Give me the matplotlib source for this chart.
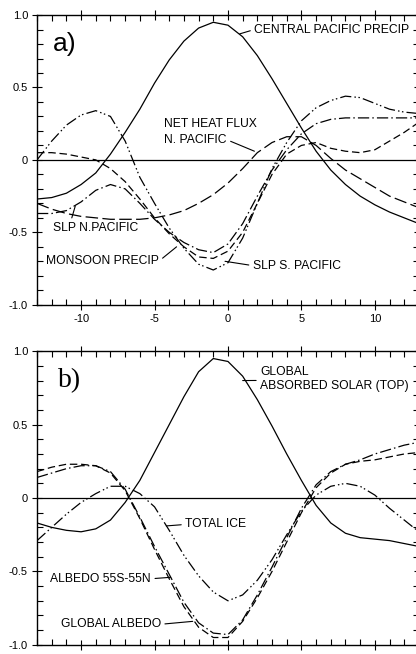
"""Lag correlations with Central Pacific precipitation / global absorbed solar"""

import matplotlib
matplotlib.use("Agg")
import matplotlib.pyplot as plt
from matplotlib.ticker import MultipleLocator, FixedLocator, FixedFormatter

plt.rcParams["font.family"] = ["Liberation Sans", "DejaVu Sans"]

# lag (months), same for every series
lag = list(range(-13, 14))

# panel a
central_pacific_precip = [-0.27, -0.26, -0.23, -0.17, -0.09, 0.04, 0.19, 0.35, 0.53, 0.69, 0.82, 0.91, 0.95,
                          0.93, 0.85, 0.72, 0.56, 0.39, 0.22, 0.06, -0.07, -0.17, -0.25, -0.31, -0.36, -0.40, -0.44]
net_heat_flux = [-0.30, -0.34, -0.37, -0.39, -0.40, -0.41, -0.41, -0.41, -0.40, -0.38, -0.35, -0.30, -0.24,
                 -0.16, -0.06, 0.05, 0.12, 0.16, 0.16, 0.10, 0.01, -0.07, -0.13, -0.19, -0.25, -0.29, -0.33]
slp_n_pacific = [-0.37, -0.37, -0.35, -0.29, -0.21, -0.17, -0.20, -0.30, -0.41, -0.50, -0.57, -0.62, -0.64,
                 -0.58, -0.44, -0.25, -0.07, 0.07, 0.18, 0.25, 0.28, 0.29, 0.29, 0.29, 0.29, 0.29, 0.29]
monsoon_precip = [0.05, 0.05, 0.04, 0.02, 0.00, -0.06, -0.15, -0.27, -0.40, -0.51, -0.60, -0.67, -0.68,
                  -0.63, -0.50, -0.30, -0.10, 0.04, 0.10, 0.12, 0.08, 0.06, 0.05, 0.07, 0.13, 0.19, 0.26]
slp_s_pacific = [0.00, 0.13, 0.24, 0.31, 0.34, 0.30, 0.13, -0.12, -0.30, -0.47, -0.61, -0.72, -0.76,
                 -0.71, -0.54, -0.30, -0.06, 0.12, 0.27, 0.36, 0.41, 0.44, 0.43, 0.39, 0.35, 0.33, 0.32]

# panel b
absorbed_solar = [-0.17, -0.20, -0.22, -0.23, -0.21, -0.15, -0.03, 0.12, 0.31, 0.50, 0.69, 0.86, 0.95,
                  0.93, 0.83, 0.67, 0.49, 0.30, 0.12, -0.05, -0.17, -0.24, -0.27, -0.28, -0.29, -0.31, -0.33]
total_ice = [-0.29, -0.20, -0.11, -0.03, 0.03, 0.08, 0.08, 0.03, -0.06, -0.22, -0.39, -0.53, -0.64,
             -0.70, -0.66, -0.56, -0.42, -0.25, -0.09, 0.02, 0.08, 0.10, 0.08, 0.02, -0.07, -0.15, -0.23]
global_albedo = [0.18, 0.21, 0.23, 0.23, 0.22, 0.17, 0.05, -0.14, -0.35, -0.55, -0.74, -0.88, -0.95,
                 -0.95, -0.84, -0.68, -0.50, -0.30, -0.10, 0.07, 0.17, 0.23, 0.25, 0.26, 0.28, 0.30, 0.31]
albedo_55 = [0.14, 0.17, 0.20, 0.22, 0.22, 0.18, 0.06, -0.13, -0.33, -0.52, -0.71, -0.85, -0.92,
             -0.93, -0.83, -0.66, -0.47, -0.27, -0.07, 0.09, 0.18, 0.23, 0.26, 0.30, 0.33, 0.36, 0.38]

x_ticks = [-10, -5, 0, 5, 10]
x_tick_labels = ["-10", "-5", "0", "5", "10"]
y_ticks = [-1.0, -0.5, 0.0, 0.5, 1.0]
y_tick_labels = ["-1.0", "-0.5", "0", "0.5", "1.0"]

DASHDOTDOT = (0, (9, 2.5, 1.2, 2, 1.2, 2.5))
DASHDOT = (0, (9, 2.5, 1.2, 2.5))
DASHED = (0, (6, 3))
LONGDASH = (0, (10, 3.5))
FS = 8.7

fig = plt.figure(figsize=(4.16, 6.54), dpi=100)
ax_a = fig.add_axes([0.089, 0.534, 0.918, 0.443])
ax_b = fig.add_axes([0.089, 0.014, 0.918, 0.449])


def style_axes(ax):
    ax.set_xlim(-13, 13)
    ax.set_ylim(-1, 1)
    ax.axhline(0, color="black", lw=0.9)
    ax.xaxis.set_major_locator(FixedLocator(x_ticks))
    ax.xaxis.set_major_formatter(FixedFormatter(x_tick_labels))
    ax.xaxis.set_minor_locator(MultipleLocator(1))
    ax.yaxis.set_major_locator(FixedLocator(y_ticks))
    ax.yaxis.set_major_formatter(FixedFormatter(y_tick_labels))
    ax.yaxis.set_minor_locator(MultipleLocator(0.1))
    ax.tick_params(which="major", direction="inout", length=7, width=0.8,
                   top=True, right=True, labelsize=8, pad=3)
    ax.tick_params(which="minor", direction="in", length=4, width=0.8, top=True, right=True)
    for s in ax.spines.values():
        s.set_linewidth(1.0)


def label(ax, text, xy, xytext, rel=(0, 0.5)):
    ax.annotate(text, xy=xy, xytext=xytext, fontsize=FS, ha="left", va="center",
                arrowprops=dict(arrowstyle="-", lw=0.8, color="black",
                                shrinkA=1, shrinkB=0, relpos=rel))


# ---- panel a
style_axes(ax_a)
ax_a.plot(lag, central_pacific_precip, color="black", lw=0.9)
ax_a.plot(lag, net_heat_flux, color="black", lw=0.9, linestyle=LONGDASH)
ax_a.plot(lag, slp_n_pacific, color="black", lw=0.9, linestyle=DASHDOT)
ax_a.plot(lag, monsoon_precip, color="black", lw=0.9, linestyle=DASHED)
ax_a.plot(lag, slp_s_pacific, color="black", lw=0.9, linestyle=DASHDOTDOT)

ax_a.text(-11.9, 0.80, "a)", fontsize=19, va="center", ha="left")
label(ax_a, "CENTRAL PACIFIC PRECIP", (0.8, 0.87), (1.8, 0.90))
ax_a.text(-4.35, 0.245, "NET HEAT FLUX", fontsize=FS, va="center")
label(ax_a, "N. PACIFIC", (1.8, 0.06), (-4.35, 0.14), rel=(1, 0.5))
label(ax_a, "SLP N.PACIFIC", (-10.4, -0.32), (-11.9, -0.47), rel=(0.2, 0.9))
label(ax_a, "MONSOON PRECIP", (-3.5, -0.60), (-12.4, -0.70), rel=(1, 0.5))
label(ax_a, "SLP S. PACIFIC", (-0.2, -0.70), (1.7, -0.73))

# ---- panel b
style_axes(ax_b)
ax_b.plot(lag, absorbed_solar, color="black", lw=0.9)
ax_b.plot(lag, total_ice, color="black", lw=0.9, linestyle=DASHDOTDOT)
ax_b.plot(lag, global_albedo, color="black", lw=0.9, linestyle=DASHED)
ax_b.plot(lag, albedo_55, color="black", lw=0.9, linestyle=DASHDOT)

ax_b.text(-11.6, 0.80, "b)", fontsize=20, va="center", ha="left", family="Liberation Serif")
ax_b.text(2.2, 0.86, "GLOBAL", fontsize=FS, va="center")
label(ax_b, "ABSORBED SOLAR (TOP)", (1.0, 0.80), (2.2, 0.76), rel=(0, 1.0))
label(ax_b, "TOTAL ICE", (-4.2, -0.19), (-2.9, -0.18))
label(ax_b, "ALBEDO 55S-55N", (-3.9, -0.54), (-12.1, -0.55), rel=(1, 0.5))
label(ax_b, "GLOBAL ALBEDO", (-2.4, -0.84), (-11.4, -0.86), rel=(1, 0.5))

fig.savefig("out.png", dpi=100)
